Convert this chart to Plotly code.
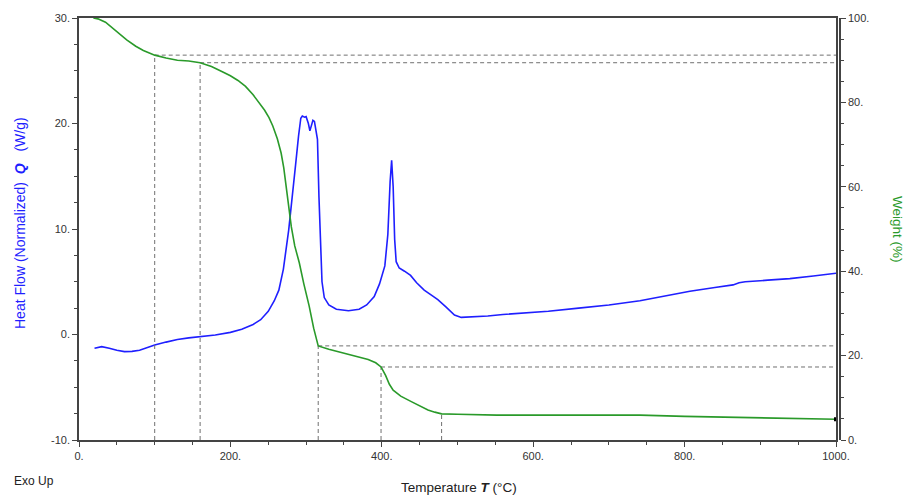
import plotly.graph_objects as go

# ---- data ----
heat_T = [20.5, 25, 30, 40, 50, 60, 70, 80, 90, 100, 115, 130, 145, 160, 180, 200, 215, 230, 240, 250,
          258, 264, 270, 277, 282, 286, 290, 293, 295, 298, 300, 303, 305, 307, 309, 311, 313, 315, 317,
          319, 321, 324, 330, 340, 356, 370, 380, 390, 397, 404, 408, 411, 413, 415, 417, 419, 423, 430,
          438, 446, 456, 466, 474, 485, 496, 505, 520, 540, 560, 590, 620, 660, 700, 741, 770, 807, 840,
          864, 872, 880, 910, 939, 970, 1000]
heat_Q = [-1.3, -1.2, -1.15, -1.3, -1.5, -1.62, -1.6, -1.5, -1.25, -1.0, -0.72, -0.48, -0.32, -0.2, -0.05,
          0.2, 0.5, 0.95, 1.4, 2.2, 3.2, 4.2, 6.2, 9.9, 13.0, 16.0, 18.8, 20.5, 20.7, 20.6, 20.65, 20.0,
          19.3, 19.8, 20.3, 20.2, 19.5, 18.5, 13.0, 8.0, 5.0, 3.5, 2.8, 2.4, 2.25, 2.4, 2.8, 3.6, 4.8, 6.5,
          9.5, 14.5, 16.5, 14.0, 9.0, 6.9, 6.3, 6.0, 5.6, 4.9, 4.2, 3.7, 3.3, 2.6, 1.85, 1.62, 1.65, 1.75,
          1.9, 2.05, 2.2, 2.5, 2.8, 3.2, 3.6, 4.1, 4.45, 4.7, 4.9, 5.0, 5.15, 5.3, 5.55, 5.8]

weight_T = [19, 25, 35, 45, 55, 63, 75, 85, 100, 115, 130, 145, 160, 175, 190, 200, 210, 220, 230, 238.6,
            245, 251, 256, 262, 267, 270.5, 274, 277, 280.5, 285, 291, 297, 304, 310, 315.5, 316, 330, 351,
            370, 382, 392, 399, 405, 410, 415, 425, 439, 450, 461, 470, 479, 500, 552, 650, 741, 800, 870,
            950, 1000]
weight_W = [100, 99.8, 99.0, 97.5, 96.0, 94.8, 93.3, 92.3, 91.2, 90.5, 90.0, 89.8, 89.4, 88.5, 87.2, 86.3,
            85.2, 83.8, 81.8, 79.8, 78.2, 76.4, 74.4, 71.4, 68.0, 64.5, 60.0, 55.0, 50.5, 46.0, 42.0, 37.0,
            31.8, 26.5, 22.6, 22.3, 21.5, 20.5, 19.6, 19.1, 18.3, 17.3, 15.3, 13.2, 11.8, 10.4, 9.1, 8.0,
            7.1, 6.6, 6.2, 6.1, 5.9, 5.9, 5.9, 5.6, 5.3, 5.0, 4.9]

# step-analysis markers (temperature, weight, draw horizontal guide)
mark_T = [100, 160, 316, 399, 479]
mark_W = [91.2, 89.4, 22.3, 17.3, 6.2]
mark_h = [True, True, True, True, False]

x_ticks = [0, 200, 400, 600, 800, 1000]
x_ticktext = ["0.", "200.", "400.", "600.", "800.", "1000."]
q_ticks = [-10, 0, 10, 20, 30]
q_ticktext = ["-10.", "0.", "10.", "20.", "30."]
w_ticks = [0, 20, 40, 60, 80, 100]
w_ticktext = ["0.", "20.", "40.", "60.", "80.", "100."]

BLUE = "#1f1fff"
GREEN = "#2a9a2a"
DASH = "#707070"
FONT = "Liberation Sans, Arial, sans-serif"

W, H = 907, 495
ML, MR, MT, MB = 79, 67, 18, 55
PW = W - ML - MR
PH = H - MT - MB
X_END = (836 - ML) / PW


def px_x(p):
    return (p - ML) / PW


def px_y(p):
    return (H - MB - p) / PH


fig = go.Figure()

# dashed guide lines (on weight axis)
for t, w, h in zip(mark_T, mark_W, mark_h):
    fig.add_trace(go.Scatter(x=[t, t], y=[0, w], yaxis="y2", mode="lines",
                             line=dict(color=DASH, width=1, dash="4px,3px"),
                             hoverinfo="skip", showlegend=False))
    if h:
        fig.add_trace(go.Scatter(x=[t, x_ticks[-1]], y=[w, w], yaxis="y2", mode="lines",
                                 line=dict(color=DASH, width=1, dash="4px,3px"),
                                 hoverinfo="skip", showlegend=False))

fig.add_trace(go.Scatter(x=heat_T, y=heat_Q, mode="lines", line=dict(color=BLUE, width=1.6),
                         showlegend=False, name="Heat Flow"))
fig.add_trace(go.Scatter(x=weight_T, y=weight_W, yaxis="y2", mode="lines",
                         line=dict(color=GREEN, width=1.6), showlegend=False, name="Weight"))
fig.add_trace(go.Scatter(x=[weight_T[-1]], y=[weight_W[-1]], yaxis="y2", mode="markers",
                         marker=dict(color="black", size=4, symbol="square"),
                         showlegend=False, hoverinfo="skip"))

tickfont = dict(family=FONT, size=11, color="#333333")
AX = "#444444"

fig.update_layout(
    width=W, height=H,
    margin=dict(l=ML, r=MR, t=MT, b=MB),
    paper_bgcolor="white", plot_bgcolor="white",
    font=dict(family=FONT),
    xaxis=dict(range=[0, 1000], domain=[0, X_END], tickvals=x_ticks, ticktext=x_ticktext,
               showgrid=False, zeroline=False, showline=True, linecolor=AX, linewidth=1.5,
               mirror=True, ticks="outside", ticklen=5, tickcolor=AX, tickfont=tickfont,
               minor=dict(dtick=50, ticks="outside", ticklen=3, tickcolor=AX)),
    yaxis=dict(range=[-10, 30], tickvals=q_ticks, ticktext=q_ticktext,
               showgrid=False, zeroline=False, showline=True, linecolor=AX, linewidth=1.5,
               mirror=True, ticks="outside", ticklen=5, tickcolor=AX, tickfont=tickfont,
               minor=dict(dtick=2.5, ticks="outside", ticklen=3, tickcolor=AX)),
    yaxis2=dict(range=[0, 100], overlaying="y", side="right", anchor="free", position=1,
                tickvals=w_ticks, ticktext=w_ticktext,
                showgrid=False, zeroline=False, showline=True, linecolor=AX, linewidth=1.5,
                ticks="outside", ticklen=5, tickcolor=AX, tickfont=tickfont,
                minor=dict(dtick=5, ticks="outside", ticklen=3, tickcolor=AX)),
    annotations=[
        dict(text="Exo Up", x=px_x(12), y=px_y(481), xref="paper", yref="paper",
             xanchor="left", yanchor="middle", showarrow=False,
             font=dict(family=FONT, size=12, color="#222222")),
        dict(text="Temperature <b><i>T</i></b> (°C)", x=px_x(459), y=px_y(487),
             xref="paper", yref="paper", xanchor="center", yanchor="middle", showarrow=False,
             font=dict(family=FONT, size=13.5, color="#222222")),
        dict(text="Heat Flow (Normalized)\u00a0 <b><i>Q</i></b>\u00a0\u00a0 (W/g)", x=px_x(20), y=px_y(223),
             xref="paper", yref="paper", xanchor="center", yanchor="middle", showarrow=False,
             textangle=-90, font=dict(family=FONT, size=14, color=BLUE)),
        dict(text="Weight (%)", x=px_x(898), y=px_y(229), xref="paper", yref="paper",
             xanchor="center", yanchor="middle", showarrow=False, textangle=90,
             font=dict(family=FONT, size=13.5, color=GREEN)),
    ],
)

fig.write_html("out.html")
